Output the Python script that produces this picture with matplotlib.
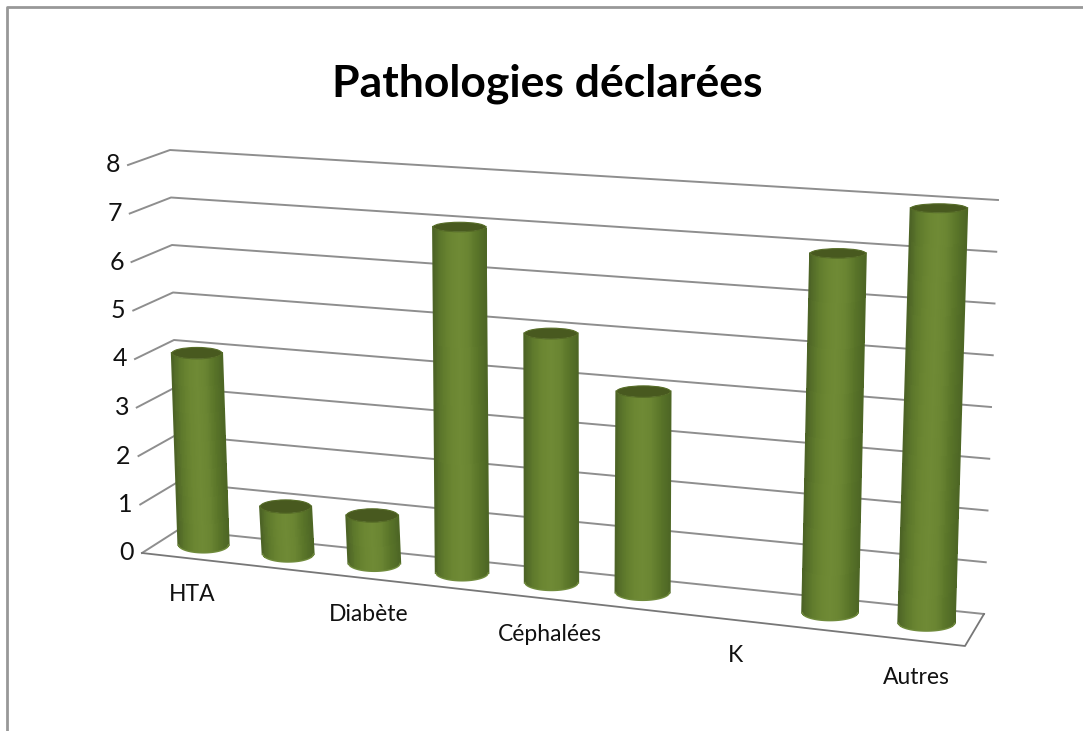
import numpy as np
import matplotlib
matplotlib.use("Agg")
import matplotlib.pyplot as plt
from matplotlib.colors import LinearSegmentedColormap
from matplotlib.patches import Ellipse

categories = ["HTA", "", "Diabète", "", "Céphalées", "", "K", "", "Autres"]
values = [4, 1, 1, 7, 5, 4, 0, 7, 8]
value_ticks = [0, 1, 2, 3, 4, 5, 6, 7, 8]
title = "Pathologies déclarées"

# pixel positions of the 3D box corners
# key: (right?, top?, back?)
BOX = {
    (0, 0, 0): (142, 553), (0, 1, 0): (128, 165),
    (0, 0, 1): (178, 530), (0, 1, 1): (170, 150),
    (1, 0, 0): (965, 646), (1, 1, 0): (981, 223),
    (1, 0, 1): (984, 614), (1, 1, 1): (998, 200),
}
PERSPECTIVE = 1.088  # categories get wider towards the right
LABEL_DX = {0: 8, 2: 12, 4: 14, 6: 13, 8: 1}  # label nudges from the picture

GRID = "#8e8e8e"
BODY = LinearSegmentedColormap.from_list(
    "body", ["#4d6426", "#5f7a2c", "#6b8632", "#6f8a35",
             "#6a8532", "#5a7529", "#4e6725"])
TOP = "#48591f"


def project(c, v, d):
    """category position, value and depth to picture pixels"""
    t = c / len(values)
    u = t / (t + PERSPECTIVE * (1 - t))
    w = v / value_ticks[-1]
    x = y = 0.0
    for (a, b, e), (px, py) in BOX.items():
        k = (u if a else 1 - u) * (w if b else 1 - w) * (d if e else 1 - d)
        x += k * px
        y += k * py
    return x, y


def draw_cylinder(ax, c, v):
    x0, y0 = project(c + 0.5, 0, 0.55)
    x1, y1 = project(c + 0.5, v, 0.5)
    half = (50 + 7 * c / len(values)) / 2
    ry_base = 8
    ry_top = 7 - 0.32 * v

    s = np.linspace(-1, 1, 61)
    arc = np.sqrt(1 - s ** 2)
    xs = np.vstack([x1 + s * half, x0 + s * half])
    ys = np.vstack([y1 + ry_top * arc, y0 + ry_base * arc])
    shade = ((s[:-1] + s[1:]) / 2 + 1) / 2
    ax.pcolormesh(xs, ys, shade[None, :], cmap=BODY, vmin=0, vmax=1,
                  shading="flat", zorder=3, rasterized=True)
    # soft edges hide the stair steps of the mesh
    ax.plot(xs[:, 0], ys[:, 0], color="#4d6426", lw=1.6, zorder=3)
    ax.plot(xs[:, -1], ys[:, -1], color="#4e6725", lw=1.6, zorder=3)
    ax.plot(xs[1], ys[1], color="#708b3c", lw=1, zorder=3)
    ax.add_patch(Ellipse((x1, y1), 2 * half, 2 * ry_top, fc=TOP, ec="#566c27",
                         lw=0.8, zorder=4))


def main():
    plt.rcParams["font.family"] = ["Lato", "DejaVu Sans"]
    fig = plt.figure(figsize=(10.83, 7.31), dpi=100)
    ax = fig.add_axes([0, 0, 1, 1])
    ax.set_xlim(0, 1083)
    ax.set_ylim(731, 0)
    ax.axis("off")

    # outer chart frame
    ax.plot([7, 7, 1083], [731, 7, 7], color="#989898", lw=2, zorder=1)

    n = len(values)
    for v in value_ticks:
        fx, fy = project(0, v, 0)
        bx, by = project(0, v, 1)
        rx, ry = project(n, v, 1)
        ax.plot([fx, bx, rx], [fy, by, ry], color=GRID, lw=1.4, zorder=2)
        ax.text(fx - 15, fy, str(v), fontsize=18, color="#111111",
                ha="center", va="center")

    # floor edges
    corners = [project(0, 0, 0), project(n, 0, 0), project(n, 0, 1)]
    ax.plot(*zip(*corners), color="#777777", lw=1.3, zorder=2)

    for i, v in enumerate(values):
        if v > 0:
            draw_cylinder(ax, i, v)

    for i, label in enumerate(categories):
        x, y = project(i + 0.5, 0, 0)
        ax.text(x + LABEL_DX.get(i, 0), y + 37, label, fontsize=16.5,
                color="#111111", ha="center", va="center")

    ax.text(547.5, 84, title, fontsize=32, fontweight="bold", color="black",
            ha="center", va="center")

    fig.savefig("out.png", dpi=100)


if __name__ == "__main__":
    main()
